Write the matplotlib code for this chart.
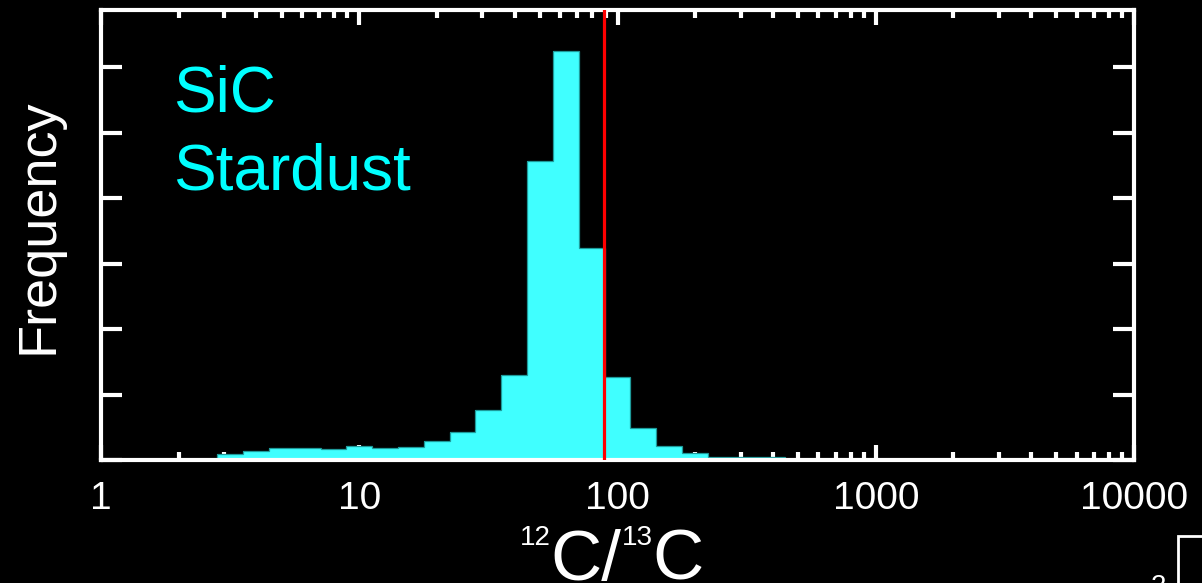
import numpy as np
import matplotlib
matplotlib.use("Agg")
import matplotlib.pyplot as plt
from matplotlib.ticker import FixedLocator, NullFormatter, LogLocator
from matplotlib.patches import Rectangle

plt.rcParams['font.family'] = ['Liberation Sans', 'DejaVu Sans']

# ---- data ----
log_bin_edges = [0.45, 0.55, 0.65, 0.75, 0.85, 0.95, 1.05, 1.15, 1.25, 1.35, 1.45,
                 1.55, 1.65, 1.75, 1.85, 1.95, 2.05, 2.15, 2.25, 2.35, 2.45, 2.55, 2.65]
frequency = [0.0050, 0.0069, 0.0092, 0.0092, 0.0084, 0.0111, 0.0092, 0.0102, 0.0147,
             0.0216, 0.0384, 0.0649, 0.2282, 0.3127, 0.1621, 0.0634, 0.0244, 0.0111,
             0.0053, 0.0023, 0.0023, 0.0023]
solar_ratio = 89
x_ticks = [1, 10, 100, 1000, 10000]
x_tick_labels = ["1", "10", "100", "1000", "10000"]
y_ticks = [0, 0.05, 0.10, 0.15, 0.20, 0.25, 0.30]

W, H = 1202, 583
fig = plt.figure(figsize=(W / 100, H / 100), dpi=100, facecolor='black')
ax = fig.add_axes([101 / W, (H - 460.3) / H, (1134 - 101) / W, (460.3 - 10) / H])
ax.set_facecolor('black')

edges = 10 ** np.array(log_bin_edges)
ax.stairs(frequency, edges, fill=True, color='#40ffff', zorder=2)
ax.stairs(frequency, edges, fill=False, color='#1e9a9a', lw=0.9, zorder=2.1)
ax.axvline(solar_ratio, color='#ff0000', lw=2.3, zorder=6)

ax.set_xscale('log')
ax.set_xlim(1, 10000)
ax.set_ylim(0, 0.34375)
ax.xaxis.set_major_locator(FixedLocator(x_ticks))
ax.set_xticklabels(x_tick_labels)
ax.xaxis.set_minor_locator(LogLocator(base=10, subs=np.arange(2, 10)))
ax.xaxis.set_minor_formatter(NullFormatter())
ax.set_yticks(y_ticks)
ax.set_yticklabels([])

for s in ax.spines.values():
    s.set_color('white')
    s.set_linewidth(3.0)
    s.set_zorder(4)

ax.tick_params(axis='x', which='major', direction='in', top=True, bottom=True,
               length=10.5, width=3.0, color='white', labelcolor='white',
               labelsize=28, pad=15)
ax.tick_params(axis='x', which='minor', direction='in', top=True, bottom=True,
               length=6, width=3.0, color='white')
ax.tick_params(axis='y', which='major', direction='in', left=True, right=True,
               length=15, width=3.0, color='white')

# panel text
fig.text(173 / W, (H - 112) / H, "SiC", color='#00ffff', fontsize=46,
         ha='left', va='baseline')
fig.text(173 / W, (H - 190) / H, "Stardust", color='#00ffff', fontsize=46,
         ha='left', va='baseline')

# y label
fig.text(39 / W, (H - 226) / H, "Frequency", color='white', fontsize=39,
         rotation=90, ha='center', va='center')

# x label  12C/13C with small superscripts
big, small = 51, 20
sup_base, main_base = H - 545, H - 580
t0 = fig.text(520 / W, sup_base / H, "12", color='white', fontsize=small,
              ha='left', va='baseline')
t1 = fig.add_artist(matplotlib.text.Annotation(
    "C/", xy=(1, main_base), xycoords=(t0, 'figure pixels'), color='white',
    fontsize=big, ha='left', va='baseline'))
t2 = fig.add_artist(matplotlib.text.Annotation(
    "13", xy=(1, sup_base), xycoords=(t1, 'figure pixels'), color='white',
    fontsize=small, ha='left', va='baseline'))
t3 = fig.add_artist(matplotlib.text.Annotation(
    "C", xy=(1, main_base), xycoords=(t2, 'figure pixels'), color='white',
    fontsize=big, ha='left', va='baseline'))

# cropped neighbouring panel fragment in the bottom-right corner
fig.add_artist(Rectangle((1177.7 / W, -0.2), 0.2, (H - 535.7) / H + 0.2,
                         transform=fig.transFigure, fill=False,
                         edgecolor='white', lw=2.0))
fig.text(1151 / W, (H - 574) / H, "2", color='white', fontsize=20,
         ha='left', va='top')

fig.savefig("out.png", dpi=100, facecolor='black')
